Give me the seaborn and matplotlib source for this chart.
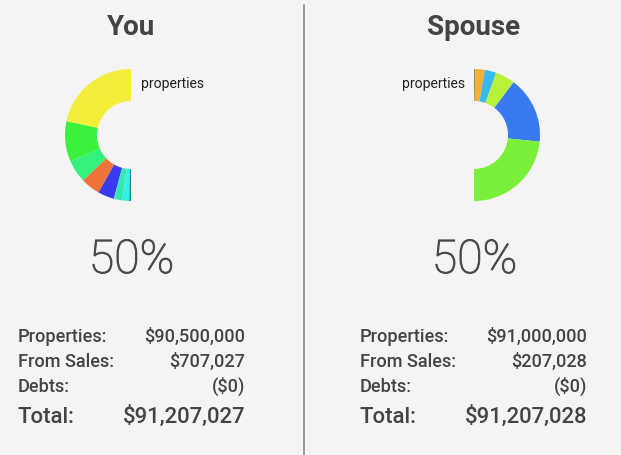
import matplotlib
matplotlib.use("Agg")
import matplotlib.pyplot as plt
import matplotlib.patheffects as pe
import seaborn as sns

# ---- data ----
panel_titles = ["You", "Spouse"]
percent_labels = ["50%", "50%"]
slice_label = "properties"

# half-donut slice sizes (degrees of a 180° arc)
you_shares = [78, 35.5, 20, 17, 14.4, 7.6, 6, 1.5]
you_colors = ["#f2ee3a", "#3af03a", "#35f07a", "#f0743a", "#3a3af0", "#35e8b0", "#35f0e8", "#1a8a80"]
spouse_shares = [1.2, 8.3, 10.1, 17.3, 58.9, 84.2]
spouse_colors = ["#8a9a3a", "#f2b03a", "#3ab8f0", "#b8f03a", "#3a7af0", "#7af03a"]

row_labels = ["Properties:", "From Sales:", "Debts:", "Total:"]
you_values = ["$90,500,000", "$707,027", "($0)", "$91,207,027"]
spouse_values = ["$91,000,000", "$207,028", "($0)", "$91,207,028"]

# ---- style ----
sns.set_theme(style="white")
plt.rcParams["font.family"] = ["Roboto", "DejaVu Sans"]

W, H = 621, 455
BG = "#f4f4f4"
TXT = "#444444"
fig = plt.figure(figsize=(W / 100, H / 100), dpi=100, facecolor=BG)


def fx(x):
    return x / W


def fy(y):
    return 1 - y / H


def donut(cx, cy, r, shares, colors, counterclock):
    ax = fig.add_axes([fx(cx - r), fy(cy + r), 2 * r / W, 2 * r / H])
    ax.set_facecolor("none")
    vals = list(shares) + [sum(shares)]
    cols = list(colors) + ["none"]
    ax.pie(vals, colors=cols, startangle=90, counterclock=counterclock,
           radius=1.0, wedgeprops=dict(width=0.485, linewidth=0))
    ax.set_xlim(-1, 1)
    ax.set_ylim(-1, 1)
    ax.set_aspect("equal")
    ax.axis("off")
    return ax


panels = [
    dict(cx=131, title=panel_titles[0], pct=percent_labels[0], shares=you_shares,
         colors=you_colors, cc=True, lx=141, lha="left", labx=18, valx=245, vals=you_values),
    dict(cx=474, title=panel_titles[1], pct=percent_labels[1], shares=spouse_shares,
         colors=spouse_colors, cc=False, lx=465, lha="right", labx=360, valx=587, vals=spouse_values),
]

row_y = [342, 367, 392, 423]
row_size = [13.1, 13.1, 13.1, 15.9]

for p in panels:
    fig.text(fx(p["cx"]), fy(35), p["title"], ha="center", va="baseline",
             fontsize=20, fontweight="bold", color=TXT)
    donut(p["cx"], 135, 66, p["shares"], p["colors"], p["cc"])
    fig.text(fx(p["lx"]), fy(84), slice_label, ha=p["lha"], va="center",
             fontsize=10.1, color="#222222")
    fig.text(fx(p["cx"] + 0.5), fy(273), p["pct"], ha="center", va="baseline",
             fontsize=33.5, fontweight="light", color="#4a4a4a",
             path_effects=[pe.withStroke(linewidth=0.7, foreground="#4a4a4a")])
    for lab, val, y, s in zip(row_labels, p["vals"], row_y, row_size):
        fig.text(fx(p["labx"]), fy(y), lab, ha="left", va="baseline",
                 fontsize=s, fontweight="medium", color=TXT)
        fig.text(fx(p["valx"]), fy(y), val, ha="right", va="baseline",
                 fontsize=s, fontweight="medium", color=TXT)

# divider
fig.add_artist(plt.Line2D([fx(303.5), fx(303.5)], [fy(5), fy(455)],
                          color="#888888", linewidth=1.2))

fig.savefig("out.png", dpi=100, facecolor=BG)
